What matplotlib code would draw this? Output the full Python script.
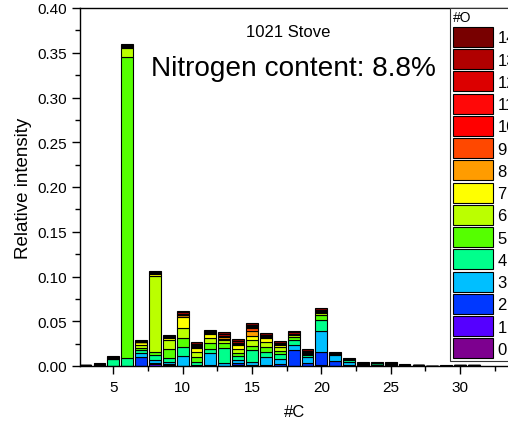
import matplotlib
matplotlib.use("Agg")
import matplotlib.pyplot as plt
import numpy as np

plt.rcParams['font.family'] = ['Liberation Sans', 'DejaVu Sans']

# Carbon numbers (x categories)
carbon = [3, 4, 5, 6, 7, 8, 9, 10, 11, 12, 13, 14, 15, 16, 17,
          18, 19, 20, 21, 22, 23, 24, 25, 26, 27, 28, 29, 30, 31]

# Relative intensity per #O series (one value per carbon number)
o0 = [0, 0, 0, 0, 0, 0, 0, 0, 0, 0, 0, 0, 0, 0, 0, 0, 0, 0, 0, 0, 0, 0, 0, 0, 0.001, 0, 0, 0, 0]
o1 = [0, 0, 0, 0, 0.0005, 0.002, 0.001, 0, 0, 0, 0, 0.001, 0, 0, 0, 0.0005, 0.0005, 0.001, 0.0005, 0, 0, 0, 0, 0, 0.0005, 0, 0, 0, 0]
o2 = [0, 0.0008, 0, 0, 0.0095, 0.001, 0.001, 0.0005, 0, 0.001, 0.0005, 0.002, 0.001, 0.001, 0.002, 0.017, 0.003, 0.0145, 0.0055, 0.001, 0.0005, 0.0005, 0.001, 0.001, 0, 0, 0, 0, 0]
o3 = [0.0003, 0.001, 0.0005, 0.0005, 0.004, 0.004, 0.003, 0.011, 0.001, 0.0135, 0.0025, 0.004, 0.004, 0.0085, 0.0055, 0.006, 0.0065, 0.0235, 0.0065, 0.004, 0.001, 0.001, 0.001, 0.0005, 0, 0, 0, 0, 0]
o4 = [0.0008, 0.0008, 0.0075, 0.0085, 0.0035, 0.005, 0.004, 0.010, 0.0035, 0.0045, 0.0175, 0.004, 0.013, 0.0065, 0.0055, 0.006, 0.002, 0.012, 0.001, 0.0015, 0.001, 0.0015, 0.001, 0, 0, 0, 0, 0, 0]
o5 = [0, 0, 0, 0.336, 0.003, 0.004, 0.010, 0.010, 0.005, 0.0065, 0.0055, 0.004, 0.0045, 0.0055, 0.004, 0.0025, 0.001, 0.006, 0, 0.001, 0, 0, 0, 0, 0, 0, 0.0004, 0.0008, 0.0006]
o6 = [0, 0, 0.0005, 0.010, 0.0035, 0.085, 0.010, 0.011, 0.006, 0.0055, 0.0035, 0.004, 0.0065, 0.005, 0.004, 0.003, 0.001, 0.002, 0, 0, 0, 0, 0, 0, 0, 0, 0, 0, 0]
o7 = [0, 0, 0, 0.0015, 0.0025, 0.0015, 0.0025, 0.012, 0.005, 0.0045, 0.001, 0.005, 0.0048, 0.0045, 0.003, 0.0005, 0, 0.001, 0, 0, 0, 0, 0, 0, 0, 0, 0, 0, 0]
o8 = [0, 0, 0, 0.001, 0.0005, 0.001, 0.001, 0.0025, 0.001, 0.001, 0.002, 0.001, 0.0055, 0.001, 0.0005, 0.0005, 0.0015, 0.001, 0, 0, 0, 0, 0, 0, 0, 0, 0, 0, 0]
o9 = [0, 0, 0, 0, 0, 0.0005, 0.0005, 0.0005, 0.0005, 0.0005, 0.0005, 0, 0.003, 0, 0, 0, 0.0005, 0, 0, 0, 0, 0, 0, 0, 0, 0, 0, 0, 0]
o10 = [0, 0, 0, 0, 0, 0, 0, 0, 0, 0, 0, 0, 0.001, 0, 0, 0, 0, 0, 0, 0, 0, 0, 0, 0, 0, 0, 0, 0, 0]
o11 = [0, 0, 0, 0, 0, 0, 0, 0, 0, 0, 0, 0, 0.0005, 0, 0, 0, 0, 0, 0, 0, 0, 0, 0, 0, 0, 0, 0, 0, 0]
o12 = [0, 0, 0.001, 0, 0, 0, 0, 0.001, 0.001, 0.001, 0.001, 0.001, 0.001, 0.001, 0, 0, 0, 0, 0, 0, 0, 0, 0, 0, 0, 0, 0, 0, 0]
o13 = [0, 0, 0.001, 0.001, 0.001, 0.001, 0.001, 0.0015, 0.0015, 0.001, 0.0015, 0.0015, 0.0015, 0.0015, 0.0015, 0.0015, 0.001, 0.0015, 0.001, 0.0005, 0.0005, 0.0005, 0.0005, 0, 0, 0, 0, 0, 0]
o14 = [0, 0.0005, 0.001, 0.0015, 0.001, 0.0015, 0.001, 0.0015, 0.002, 0.0015, 0.002, 0.0025, 0.0015, 0.002, 0.002, 0.002, 0.002, 0.002, 0.0015, 0.001, 0.001, 0.001, 0.001, 0.001, 0, 0, 0.0008, 0.0004, 0.0004]

o_labels = ['0', '1', '2', '3', '4', '5', '6', '7', '8', '9', '10', '11', '12', '13', '14']
o_colors = ['#7D008F', '#5500FF', '#0038FF', '#00BFFF', '#00FF8C', '#55FF00',
            '#BBFF00', '#FFFF00', '#FF9C00', '#FF4800', '#FF0000', '#FF0808',
            '#DC0000', '#B00000', '#780000']

series = [o0, o1, o2, o3, o4, o5, o6, o7, o8, o9, o10, o11, o12, o13, o14]

W, H = 508, 427
fig = plt.figure(figsize=(W / 100, H / 100), dpi=100)
ax = fig.add_axes([80 / W, (H - 367) / H, 430 / W, (367 - 9) / H])

bottom = np.zeros(len(carbon))
handles = []
for lab, col, vals in zip(o_labels, o_colors, series):
    v = np.array(vals, dtype=float)
    b = ax.bar(carbon, v, width=0.85, bottom=bottom, color=col,
               edgecolor='black', linewidth=0.8, label=lab)
    handles.append(b)
    bottom += v

ax.set_xlim(2.6, 33.6)
ax.set_ylim(0, 0.40)
ax.set_xticks([5, 10, 15, 20, 25, 30])
ax.set_xticks([7.5, 12.5, 17.5, 22.5, 27.5, 32.5], minor=True)
ax.set_yticks(np.arange(0, 0.401, 0.05))
ax.set_yticks(np.arange(0.025, 0.40, 0.05), minor=True)
ax.yaxis.set_major_formatter(matplotlib.ticker.FormatStrFormatter('%.2f'))
ax.tick_params(which='major', length=6, width=1, labelsize=11, direction='out')
ax.tick_params(which='minor', length=3.5, width=1, direction='out')
ax.tick_params(axis='x', pad=4)
for s in ax.spines.values():
    s.set_linewidth(1)
ax.spines['right'].set_visible(False)

ax.set_xlabel('#C', fontsize=12)
ax.set_ylabel('Relative intensity', fontsize=13.5)
ax.xaxis.set_label_coords(0.5, -0.106)
ax.yaxis.set_label_coords(-0.112, 0.5)

fig.text(288 / W, 1 - 37 / H, '1021 Stove', ha='center', va='baseline', fontsize=12)
fig.text(293 / W, 1 - 76 / H, 'Nitrogen content: 8.8%', ha='center', va='baseline', fontsize=20.2)

leg = ax.legend(handles[::-1], o_labels[::-1], title='#O', loc='upper left',
                bbox_to_anchor=(450 / W, 1 - 9 / H), bbox_transform=fig.transFigure,
                borderaxespad=0, borderpad=0.15, fontsize=12, title_fontsize=10,
                handlelength=2.4, handleheight=1.47, labelspacing=0.135,
                handletextpad=0.3, fancybox=False, framealpha=1, alignment='left')
leg.get_frame().set_edgecolor('#333333')
leg.get_frame().set_linewidth(0.8)

fig.savefig('out.png', dpi=100)
